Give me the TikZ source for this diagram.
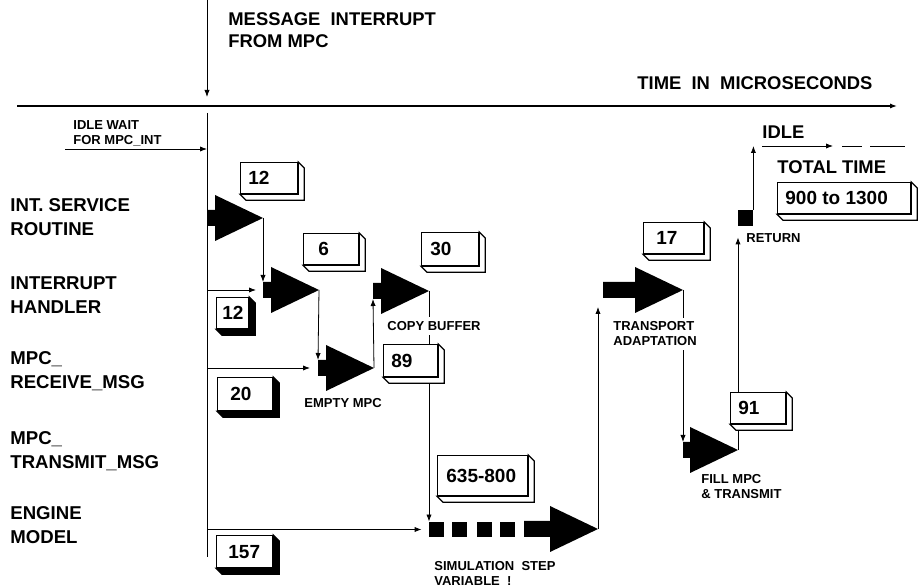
\documentclass[tikz,border=0pt]{standalone}
\usepackage{fontspec}
\setmainfont{Liberation Sans}
\usetikzlibrary{arrows.meta,backgrounds}

\begin{document}
\begin{tikzpicture}[
        x=0.5pt, y=-0.5pt,
        >={Latex[length=3.5pt,width=2.6pt]},
        flow/.style={line width=0.6pt},
        rowlbl/.style={font=\fontsize{9.3}{12}\selectfont\bfseries, align=left, anchor=west, inner sep=0pt},
        biglbl/.style={font=\fontsize{9.2}{11}\selectfont\bfseries, align=left, inner sep=0pt},
        smalllbl/.style={font=\fontsize{6.5}{7.5}\selectfont\bfseries, align=left, inner sep=0pt},
        gaplbl/.style={smalllbl, fill=white, inner sep=2pt},
        numbox/.style={draw, fill=white, inner sep=0pt, line width=0.6pt, anchor=north west},
        numtxt/.style={font=\fontsize{9.5}{11}\selectfont\bfseries, inner sep=0pt, anchor=west},
        sqr/.style={fill=black, inner sep=0pt, minimum width=7.5pt, minimum height=7.5pt},
        pics/blkarrow/.style={code={
            \fill (0,-8) -- (#1,-8) -- (#1,-23) -- ({#1+48},0) -- (#1,23) -- (#1,8) -- (0,8) -- cycle;
            \coordinate (-tail) at (0,0);
            \coordinate (-tip) at ({#1+48},0);
            \coordinate (-up) at (0,-8);
            \coordinate (-dn) at (0,8);
          }}
      ]
      \useasboundingbox (0,0) rectangle (922,587);
      \coordinate (msg) at (207,0);
      \coordinate (msgend) at (207,97);
      \coordinate (t0) at (17,106);
      \coordinate (t1) at (897,106);
      \coordinate (life0) at (207,113);
      \coordinate (life1) at (207,557);
      \coordinate (idlew) at (65,149);
      \coordinate (idle0) at (762,146);
      \coordinate (idle1) at (833,146);
      \coordinate (idle2) at (842,146);
      \coordinate (idle3) at (905,146);

      \pic (isr) at (207,218) {blkarrow=8};
      \pic (ih) at (263,290) {blkarrow=8};
      \pic (emp) at (318,368) {blkarrow=8};
      \pic (cpy) at (373,291) {blkarrow=8};
      \pic (trn) at (603,290) {blkarrow=32};
      \pic (fil) at (683,450) {blkarrow=7};
      \pic (eng) at (524,529) {blkarrow=26};
      \foreach \sx [count=\i] in {436.5,459.5,484,507.5}
        \node[sqr] (sq\i) at (\sx,529.5) {};
      \node[sqr, minimum height=8pt] (ret) at (745.5,218) {};

      \begin{scope}[on background layer, flow]
        \draw[->] (msg) -- (msgend);
        \draw[->, line width=0.7pt] (t0) -- (t1);
        \draw (life0) -- (life1);
        \draw[->] (idlew) -- (idlew -| life0);
        \draw[->] (isr-tip) -- (ih-up);
        \draw[->, shorten >=3.5pt] (ih-tail -| life0) -- (ih-tail);
        \draw[->] (ih-tip) -- (emp-up);
        \draw[->, shorten >=4pt] (emp-tail -| life0) -- (emp-tail);
        \draw[->] (emp-tip) -- (cpy-dn);
        \draw[->] (cpy-tip) -- (cpy-tip |- sq1.north);
        \draw[->, shorten >=3.5pt] (sq1.west -| life0) -- (sq1.west);
        \draw[->, shorten >=4.5pt] (eng-tip) -- (eng-tip |- trn-dn);
        \draw[->] (trn-tip) -- (fil-up);
        \draw[->, shorten >=5.5pt] (fil-tip) -- (fil-tip |- ret.south);
        \draw[->] (ret.north east) -- (ret.north east |- idle0);
        \draw[->] (idle0) -- (idle1);
        \draw[dash pattern=on 10pt off 4pt on 18pt off 4pt] (idle2) -- (idle3);
      \end{scope}

      \foreach \nm/\bx/\by/\bw/\bh/\txt/\sd/\pd in {%
        b12a/240/162/57/31/12/white/8,
        b6/303/233/55/31/6/white/15,
        b30/421/232/57/33/30/white/9,
        b12b/216/297/32/31/12/black/6,
        b20/217/377/55/33/20/black/13,
        b89/383/344/54/32/89/white/8,
        b157/216/535/56/32/157/black/12,
        b635/437/455/90/40/635-800/white/9,
        b17/643/222/60/31/17/white/13,
        b91/730/392/55/31/91/white/8,
        b900/777/182/133/31/900 to 1300/white/8%
      }{
        \node[numbox, minimum width=\bw*0.5pt, minimum height=\bh*0.5pt] (\nm) at (\bx,\by) {};
        \filldraw[line width=0.6pt, fill=\sd] (\nm.north east) -- ++(6,6)
          |- ([shift={(6,6)}]\nm.south west) -- (\nm.south west) -- (\nm.south east) -- cycle;
        \node[numtxt] (\nm-t) at ([xshift=\pd*0.5pt]\nm.west) {\txt};
      }

      \node[biglbl, anchor=north west] (msglbl) at (228,12) {MESSAGE\ \ INTERRUPT\\FROM MPC};
      \node[biglbl, anchor=west] (timelbl) at (637,83) {TIME\ \ IN\ \ MICROSECONDS};
      \node[smalllbl, anchor=west] (idlewlbl) at (73,133.5) {IDLE WAIT\\FOR MPC\_INT};
      \foreach \nm/\lbl/\y in {%
        isrlbl/INT. SERVICE\\ROUTINE/217,
        ihlbl/INTERRUPT\\HANDLER/295,
        rcvlbl/MPC\_\\RECEIVE\_MSG/371,
        xmtlbl/MPC\_\\TRANSMIT\_MSG/451,
        englbl/ENGINE\\MODEL/525%
      }{
        \node[rowlbl] (\nm) at (10,\y) {\lbl};
      }
      \node[gaplbl] (cpylbl) at (434,326) {COPY BUFFER};
      \node[smalllbl, anchor=west] (emplbl) at (304,403) {EMPTY MPC};
      \node[gaplbl, anchor=west] (trnlbl) at (609,334) {TRANSPORT\\ADAPTATION};
      \node[smalllbl, anchor=west] (fillbl) at (701,487) {FILL MPC\\\& TRANSMIT};
      \node[smalllbl, anchor=west] (retlbl) at (746,238) {RETURN};
      \node[smalllbl, anchor=north west] (simlbl) at (434,561) {SIMULATION\ \ STEP\\VARIABLE\ \ !};
      \node[biglbl, anchor=west] (idlelbl) at (762,132) {IDLE};
      \node[biglbl, anchor=west] (totlbl) at (777,167) {TOTAL TIME};
    \end{tikzpicture}
\end{document}
